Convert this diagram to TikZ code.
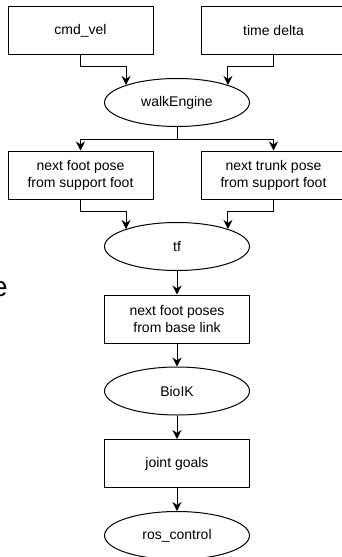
\documentclass[tikz,border=0pt]{standalone}
\usepackage{fontspec}
\setmainfont{Liberation Sans}
\usetikzlibrary{arrows.meta,shapes.geometric}
\begin{document}
\begin{tikzpicture}[x=1pt,y=1pt,
  lbl/.style={font=\fontsize{14}{17}\selectfont},
  box/.style={lbl, draw, line width=1pt, minimum width=145pt, minimum height=48pt, inner sep=0pt, align=center},
  oval/.style={lbl, draw, ellipse, line width=1pt, minimum width=145pt, minimum height=48pt, inner sep=0pt},
  arr/.style={line width=1pt, -{Stealth[length=9pt,width=9pt,inset=3pt]}}]
\useasboundingbox (0,0) rectangle (342,-557);
\node[box] (cmd) at (80.5,-30.5) {cmd\_vel};
\node[box] (td) at (273.5,-30.5) {time delta};
\node[oval] (walk) at (177,-102.5) {walkEngine};
\node[box] (nfp) at (80.5,-175) {next foot pose\\from support foot};
\node[box] (ntp) at (273.5,-175) {next trunk pose\\from support foot};
\node[oval] (tf) at (177,-246.5) {tf};
\node[box] (nfps) at (177,-319) {next foot poses\\from base link};
\node[oval] (bio) at (177,-391) {BioIK};
\node[box] (jg) at (177,-463.5) {joint goals};
\node[oval] (ros) at (177,-535.5) {ros\_control};
\node[anchor=base east, inner sep=0pt, font=\fontsize{28}{30}\selectfont] (frag) at (8,-296) {e};
\draw[arr] (cmd.south) -- ++(0,-11.5) -| (walk.161);
\draw[arr] (td.south) -- ++(0,-11.5) -| (walk.19);
\draw[arr] (walk.south) -- ++(0,-12) -| (nfp.north);
\draw[arr] (walk.south) -- ++(0,-12) -| (ntp.north);
\draw[arr] (nfp.south) -- ++(0,-12) -| (tf.161);
\draw[arr] (ntp.south) -- ++(0,-12) -| (tf.19);
\draw[arr] (tf) -- (nfps);
\draw[arr] (nfps) -- (bio);
\draw[arr] (bio) -- (jg);
\draw[arr] (jg) -- (ros);
\end{tikzpicture}
\end{document}
